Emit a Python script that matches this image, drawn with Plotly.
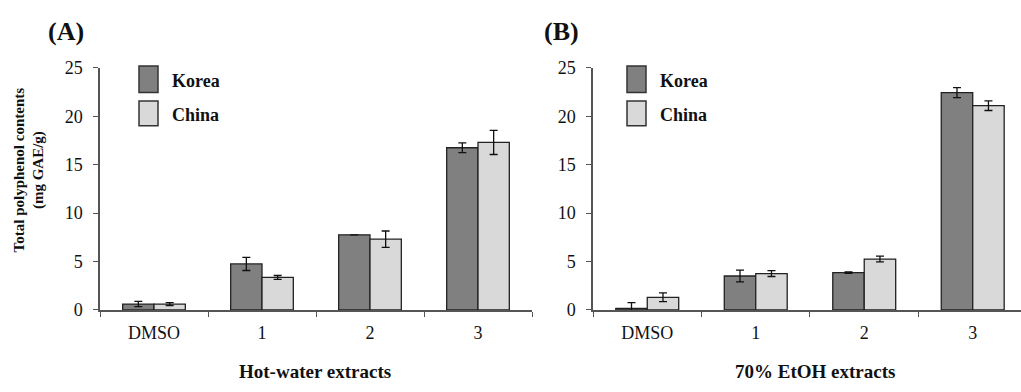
import plotly.graph_objects as go

W, H = 1021, 392

categories = ["DMSO", "1", "2", "3"]
series_names = ["Korea", "China"]

hot_korea = [0.6, 4.75, 7.75, 16.75]
hot_korea_err = [0.27, 0.68, 0.0, 0.5]
hot_china = [0.6, 3.35, 7.3, 17.3]
hot_china_err = [0.15, 0.2, 0.85, 1.25]

etoh_korea = [0.15, 3.5, 3.85, 22.45]
etoh_korea_err = [0.6, 0.6, 0.08, 0.52]
etoh_china = [1.3, 3.75, 5.25, 21.1]
etoh_china_err = [0.45, 0.3, 0.3, 0.5]

panel_labels = ["(A)", "(B)"]
x_titles = ["Hot-water extracts", "70% EtOH extracts"]
y_title = "Total polyphenol contents<br>(mg GAE/g)"
y_ticks = [0, 5, 10, 15, 20, 25]

colors = {"Korea": "#808080", "China": "#d9d9d9"}
FONT = "Liberation Serif, Times New Roman, serif"


def px(x):
    return x / W


def py(y):
    return 1 - y / H


fig = go.Figure()

panels = [
    ("x", "y", hot_korea, hot_korea_err, hot_china, hot_china_err),
    ("x2", "y2", etoh_korea, etoh_korea_err, etoh_china, etoh_china_err),
]
for xa, ya, k, ke, c, ce in panels:
    for name, vals, errs in [("Korea", k, ke), ("China", c, ce)]:
        fig.add_trace(go.Bar(
            x=categories, y=vals, name=name, xaxis=xa, yaxis=ya,
            marker=dict(color=colors[name], line=dict(color="#222222", width=1.3)),
            error_y=dict(type="data", array=errs, visible=True,
                         color="#111111", thickness=1.3, width=4),
            showlegend=False,
        ))

ydom = [py(316), py(61)]
axis_common = dict(showline=True, linecolor="#555555", linewidth=1.5,
                   ticks="outside", ticklen=5, tickcolor="#555555", tickwidth=1.3,
                   showgrid=False, zeroline=False,
                   tickfont=dict(family=FONT, size=18, color="#111111"))

fig.update_layout(
    width=W, height=H,
    margin=dict(l=0, r=0, t=0, b=0),
    paper_bgcolor="white", plot_bgcolor="white",
    barmode="group", bargap=0.42, bargroupgap=0,
    xaxis=dict(domain=[px(100), px(532)], anchor="y", type="category",
               range=[-0.5, 3.5], tickson="boundaries", ticklabelstandoff=6,
               **axis_common),
    xaxis2=dict(domain=[px(593), 1.0], anchor="y2", type="category",
                range=[-0.5, 3.445], tickson="boundaries", ticklabelstandoff=6,
                **axis_common),
    yaxis=dict(domain=ydom, anchor="x", range=[0, 25], tickvals=y_ticks,
               ticklabelstandoff=7, **axis_common),
    yaxis2=dict(domain=ydom, anchor="x2", range=[0, 25], tickvals=y_ticks,
                ticklabelstandoff=7, **axis_common),
)

annotations = []
for lab, cx in zip(panel_labels, [66, 561]):
    annotations.append(dict(text=f"<b>{lab}</b>", x=px(cx), y=py(23), xref="paper", yref="paper",
                            showarrow=False, xanchor="center", yanchor="middle",
                            font=dict(family=FONT, size=26, color="#111111")))
for t, cx in zip(x_titles, [315, 815]):
    annotations.append(dict(text=f"<b>{t}</b>", x=px(cx), y=py(381), xref="paper", yref="paper",
                            showarrow=False, xanchor="center", yanchor="middle",
                            font=dict(family=FONT, size=19, color="#111111")))
annotations.append(dict(text=f"<b>{y_title}</b>", x=px(29), y=py(169), xref="paper", yref="paper",
                        showarrow=False, xanchor="center", yanchor="middle", textangle=-90,
                        font=dict(family=FONT, size=15, color="#111111")))

shapes = []
for sx in [139, 627]:
    for name, (y0, y1) in zip(series_names, [(59, 87), (96, 122)]):
        shapes.append(dict(type="rect", xref="paper", yref="paper",
                           x0=px(sx), x1=px(sx + 19), y0=py(y1), y1=py(y0),
                           fillcolor=colors[name], line=dict(color="#333333", width=1.5)))
        annotations.append(dict(text=f"<b>{name}</b>", x=px(sx + 31), y=py((y0 + y1) / 2 + 2),
                                xref="paper", yref="paper", showarrow=False,
                                xanchor="left", yanchor="middle",
                                font=dict(family=FONT, size=18, color="#111111")))

fig.update_layout(annotations=annotations, shapes=shapes)

fig.write_html("out.html",
               config={"displayModeBar": False},
               post_script="document.body.style.margin='0';document.body.style.overflow='hidden';")
